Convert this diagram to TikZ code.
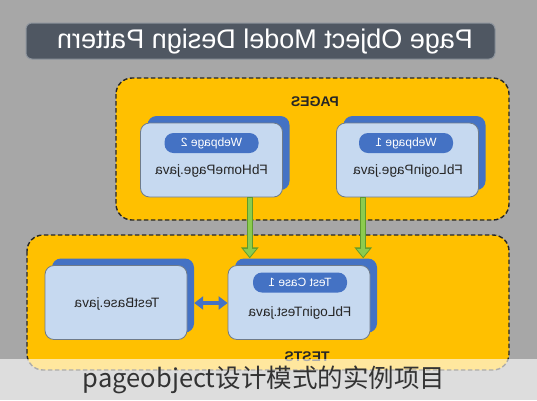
\documentclass[tikz,border=0pt]{standalone}
\usepackage{fontspec}
\setmainfont{Liberation Sans}
\newfontfamily\cjk{Noto Sans CJK SC}
\usepackage{graphicx}
\usetikzlibrary{arrows.meta}
\definecolor{bggray}{HTML}{A7A7A7}
\definecolor{titlebg}{HTML}{4F5762}
\definecolor{titleedge}{HTML}{8C939C}
\definecolor{orangebox}{HTML}{FFC000}
\definecolor{cardfill}{HTML}{C6D9F0}
\definecolor{cardblue}{HTML}{4472C4}
\definecolor{cardedge}{HTML}{6F7B8A}
\definecolor{greenlt}{HTML}{8CCB4E}
\definecolor{greendk}{HTML}{5E9A2E}
\definecolor{captxt}{HTML}{333333}
\tikzset{
  groupbox/.style={draw=black!85, line width=1.4pt, dash pattern=on 4.5pt off 2.5pt, fill=orangebox, rounded corners=16pt},
  cardfront/.style={draw=cardedge, line width=0.8pt, fill=cardfill, rounded corners=9pt, minimum width=142pt, minimum height=74pt, inner sep=0pt},
  cardback/.style={fill=cardblue, rounded corners=9pt, minimum width=142pt, minimum height=74pt, inner sep=0pt},
  pill/.style={fill=cardblue, rounded corners=9pt, minimum width=94pt, minimum height=20pt, inner sep=0pt, text=white, font=\fontsize{12}{13}\selectfont},
  fname/.style={font=\fontsize{13.6}{15}\selectfont, text=black!85, inner sep=0pt},
  grouplabel/.style={font=\fontsize{14}{15}\selectfont\bfseries, text=black!85, inner sep=0pt},
  greenshaft/.style={line width=6pt, greendk, -{Triangle[width=17pt,length=11pt]}},
  greeninner/.style={line width=3.6pt, greenlt, -{Triangle[width=12.5pt,length=8pt]}},
  bluearrow/.style={line width=4pt, cardblue, {Triangle[width=13pt,length=9pt]}-{Triangle[width=13pt,length=9pt]}}
}
\begin{document}
\begin{tikzpicture}[x=1pt,y=-1pt]
\fill[bggray] (0,0) rectangle (537,400);
\useasboundingbox (0,0) rectangle (537,400);
% title
\node[draw=titleedge, line width=1pt, fill=titlebg, rounded corners=6pt, minimum width=469pt, minimum height=36pt, inner sep=0pt] (title) at (260.5,41) {};
\node[text=white, font=\fontsize{27}{29}\selectfont, inner sep=0pt] (titletxt) at (265,42) {\reflectbox{Page Object Model Design Pattern}};
% group boxes
\draw[groupbox] (116,78) rectangle (509,220);
\node[grouplabel] (pages) at (315,102) {\reflectbox{PAGES}};
\draw[groupbox] (27,235) rectangle (509,370);
\node[grouplabel] (tests) at (307,357) {\reflectbox{TESTS}};
% cards in PAGES
\node[cardback] (wp2b) at (218.5,153) {};
\node[cardfront] (wp2) at (211.5,160) {};
\node[pill] (wp2p) at (211.5,143) {\reflectbox{Webpage 2}};
\node[fname] (wp2n) at (211.5,171) {\reflectbox{FbHomePage.java}};
\node[cardback] (wp1b) at (414.5,153) {};
\node[cardfront] (wp1) at (407.5,160) {};
\node[pill] (wp1p) at (406,143) {\reflectbox{Webpage 1}};
\node[fname] (wp1n) at (408,171) {\reflectbox{FbLoginPage.java}};
% cards in TESTS
\node[cardback] (tbb) at (123,295.5) {};
\node[cardfront] (tb) at (116,302.5) {};
\node[fname] (tbn) at (117,304) {\reflectbox{TestBase.java}};
\node[cardback] (ltb) at (306,295.5) {};
\node[cardfront] (lt) at (299,302.5) {};
\node[pill] (ltp) at (300,282.5) {\reflectbox{Test Case 1}};
\node[fname] (ltn) at (300,313) {\reflectbox{FbLoginTest.java}};
% arrows
\coordinate (a1) at ([xshift=15pt]ltb.north west);
\coordinate (a2) at ([xshift=-14pt]ltb.north east);
\draw[greenshaft] (wp2.south -| a1) -- (a1);
\draw[greeninner, shorten >=1.5pt] ([yshift=-1pt]wp2.south -| a1) -- (a1);
\draw[greenshaft] (wp1.south -| a2) -- (a2);
\draw[greeninner, shorten >=1.5pt] ([yshift=-1pt]wp1.south -| a2) -- (a2);
\draw[bluearrow] ([yshift=-0.5pt]tb.east -| tbb.east) -- ([yshift=-0.5pt]tb.east -| lt.west);
% caption band
\fill[white, opacity=0.62] (0,359) rectangle (537,400);
\node[text=captxt, font=\cjk\fontsize{25.5}{27}\selectfont, inner sep=0pt] (cap) at (264,380) {pageobject设计模式的实例项目};
\end{tikzpicture}
\end{document}
